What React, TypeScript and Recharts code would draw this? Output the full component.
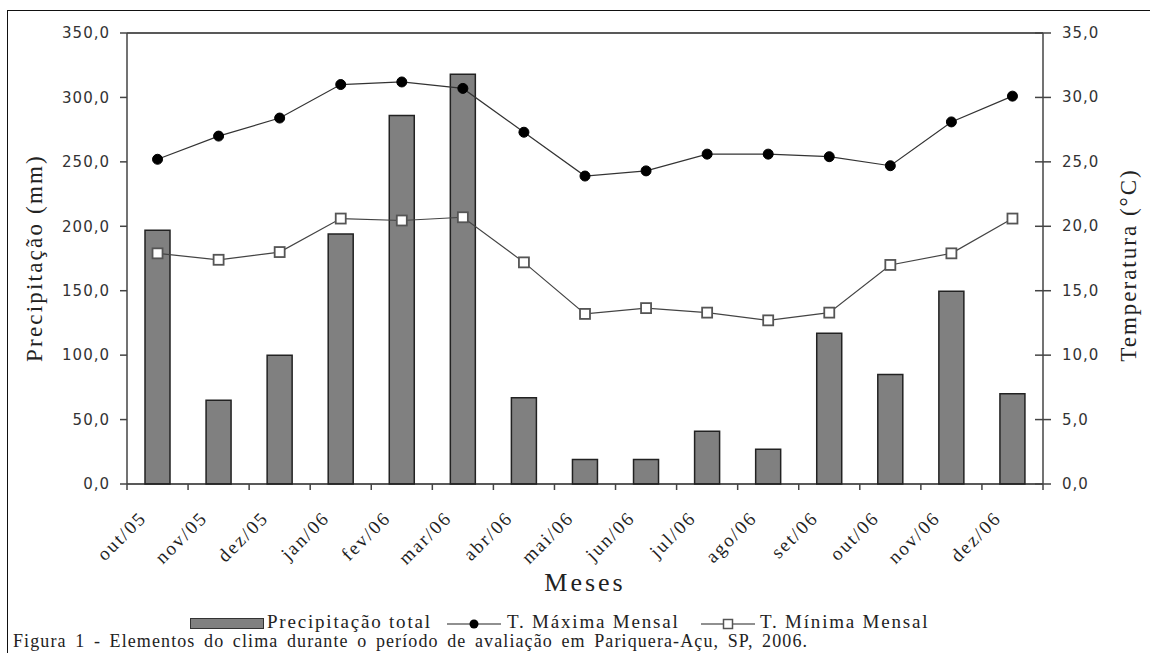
import React from 'react';
import {
  ComposedChart,
  Bar,
  Line,
  XAxis,
  YAxis,
  Legend,
  ReferenceLine,
} from 'recharts';

const months = [
  'out/05', 'nov/05', 'dez/05', 'jan/06', 'fev/06', 'mar/06', 'abr/06', 'mai/06',
  'jun/06', 'jul/06', 'ago/06', 'set/06', 'out/06', 'nov/06', 'dez/06',
];
const precipitation = [197, 65, 100, 194, 286, 318, 67, 19, 19, 41, 27, 117, 85, 149.5, 70];
const tempMax = [25.2, 27.0, 28.4, 31.0, 31.2, 30.7, 27.3, 23.9, 24.3, 25.6, 25.6, 25.4, 24.7, 28.1, 30.1];
const tempMin = [17.9, 17.4, 18.0, 20.6, 20.45, 20.7, 17.2, 13.2, 13.65, 13.3, 12.7, 13.3, 17.0, 17.9, 20.6];
const precipTicks = [0, 50, 100, 150, 200, 250, 300, 350];
const tempTicks = [0, 5, 10, 15, 20, 25, 30, 35];

const data = months.map((m, i) => ({
  mes: m,
  prec: precipitation[i],
  tmax: tempMax[i],
  tmin: tempMin[i],
}));

const SERIF = 'Liberation Serif';
const SANS = 'DejaVu Sans';
const PLOT_W = 1043 - 127;
const BAND = PLOT_W / months.length;

const fmt = (v: number) => v.toFixed(1).replace('.', ',');

// month labels sit between boundary ticks, like the Excel original
function MonthTick(props: any) {
  const { x, y, payload, index } = props;
  const left = x - BAND / 2;
  const last = index === months.length - 1;
  const tx = x - 10;
  const ty = y + 35;
  return (
    <g>
      <line x1={left} y1={y} x2={left} y2={y + 6} stroke="#444" strokeWidth={1.5} />
      {last && <line x1={x + BAND / 2} y1={y} x2={x + BAND / 2} y2={y + 6} stroke="#444" strokeWidth={1.5} />}
      <text
        x={tx}
        y={ty}
        textAnchor="end"
        transform={`rotate(-45, ${tx}, ${ty})`}
        fontFamily={SERIF}
        fontSize={19}
        letterSpacing={2}
        fill="#222"
      >
        {payload.value}
      </text>
    </g>
  );
}

function RightTick(props: any) {
  const { x, y, payload } = props;
  return (
    <g>
      <line x1={x - 27} y1={y} x2={x - 11} y2={y} stroke="#444" strokeWidth={1.5} />
      <text x={x} y={y} dy={5} textAnchor="start" fontFamily={SANS} fontSize={15} letterSpacing={1} fill="#333">
        {fmt(payload.value)}
      </text>
    </g>
  );
}

function LegendBox() {
  const txt = { fontFamily: SERIF, fontSize: 19, letterSpacing: 1.8, color: '#222', whiteSpace: 'nowrap' as const };
  return (
    <div style={{ position: 'relative', height: 24 }}>
      <div style={{ position: 'absolute', left: 190, top: 7, width: 72, height: 9, background: '#808080', border: '1.5px solid #333' }} />
      <span style={{ ...txt, position: 'absolute', left: 267, top: 0 }}>Precipitação total</span>
      <svg style={{ position: 'absolute', left: 446, top: 3 }} width={56} height={20}>
        <line x1={1} y1={10} x2={55} y2={10} stroke="#222" strokeWidth={1.2} />
        <circle cx={28} cy={10} r={4.5} fill="#000" />
      </svg>
      <span style={{ ...txt, position: 'absolute', left: 507, top: 0 }}>T. Máxima Mensal</span>
      <svg style={{ position: 'absolute', left: 700, top: 3 }} width={56} height={20}>
        <line x1={1} y1={10} x2={55} y2={10} stroke="#222" strokeWidth={1.2} />
        <rect x={23.5} y={5.5} width={9} height={9} fill="#fff" stroke="#555" strokeWidth={1.5} />
      </svg>
      <span style={{ ...txt, position: 'absolute', left: 760, top: 0 }}>T. Mínima Mensal</span>
    </div>
  );
}

export default function App() {
  return (
    <div style={{ position: 'absolute', left: 0, top: 0, width: 1150, height: 653, overflow: 'hidden', background: '#fff' }}>
      <div style={{ position: 'absolute', left: 7, top: 10, width: 1200, height: 700, border: '1.5px solid #111' }} />
      <ComposedChart
        width={1150}
        height={653}
        data={data}
        margin={{ top: 33, right: 7, left: 7, bottom: 109 }}
        style={{ position: 'absolute', left: 0, top: 0 }}
      >
        <XAxis
          dataKey="mes"
          height={60}
          stroke="#222"
          strokeWidth={1.5}
          tickLine={false}
          tickSize={0}
          tickMargin={0}
          interval={0}
          tick={<MonthTick />}
          label={(p: any) => {
            const vb = p.viewBox;
            return (
              <text x={vb.x + vb.width / 2} y={591} textAnchor="middle" fontFamily={SERIF} fontSize={26} letterSpacing={3} fill="#222">
                Meses
              </text>
            );
          }}
        />
        <YAxis
          yAxisId="left"
          width={120}
          domain={[0, 350]}
          ticks={precipTicks}
          tickFormatter={fmt}
          stroke="#444"
          strokeWidth={1.5}
          tickSize={7}
          tickMargin={10}
          tick={{ fontFamily: SANS, fontSize: 15, letterSpacing: 1, fill: '#333' }}
          label={(p: any) => {
            const vb = p.viewBox;
            const cx = vb.x + 27;
            const cy = 258;
            return (
              <text x={cx} y={cy} textAnchor="middle" transform={`rotate(-90, ${cx}, ${cy})`} dy={8} fontFamily={SERIF} fontSize={23} letterSpacing={2.2} fill="#222">
                Precipitação (mm)
              </text>
            );
          }}
        />
        <YAxis
          yAxisId="right"
          orientation="right"
          width={100}
          domain={[0, 35]}
          ticks={tempTicks}
          stroke="#444"
          strokeWidth={1.5}
          tickLine={false}
          tickSize={7}
          tickMargin={12}
          tick={<RightTick />}
          label={(p: any) => {
            const vb = p.viewBox;
            const cx = vb.x + 85;
            const cy = 265;
            return (
              <text x={cx} y={cy} textAnchor="middle" transform={`rotate(-90, ${cx}, ${cy})`} dy={8} fontFamily={SERIF} fontSize={23} letterSpacing={2} fill="#222">
                Temperatura (°C)
              </text>
            );
          }}
        />
        <ReferenceLine yAxisId="left" y={350} stroke="#222" strokeWidth={1.5} />
        <Bar yAxisId="left" dataKey="prec" barSize={25} fill="#808080" stroke="#222" strokeWidth={1.5} isAnimationActive={false} />
        <Line
          yAxisId="right"
          dataKey="tmax"
          stroke="#333"
          strokeWidth={1.2}
          dot={{ r: 5, fill: '#000', stroke: '#000', strokeWidth: 1 }}
          isAnimationActive={false}
        />
        <Line
          yAxisId="right"
          dataKey="tmin"
          stroke="#444"
          strokeWidth={1.2}
          dot={(p: any) => (
            <rect key={p.index} x={p.cx - 5} y={p.cy - 5} width={10} height={10} fill="#fff" stroke="#555" strokeWidth={1.8} />
          )}
          isAnimationActive={false}
        />
        <Legend
          layout="horizontal"
          verticalAlign="middle"
          align="center"
          content={() => <LegendBox />}
          wrapperStyle={{ top: 611, left: 0, width: 1150 }}
        />
      </ComposedChart>
      <div
        style={{
          position: 'absolute',
          left: 13,
          top: 631,
          fontFamily: SERIF,
          fontSize: 18,
          letterSpacing: 1.1,
          wordSpacing: 3,
          color: '#222',
          whiteSpace: 'nowrap',
        }}
      >
        Figura 1 - Elementos do clima durante o período de avaliação em Pariquera-Açu, SP, 2006.
      </div>
    </div>
  );
}
